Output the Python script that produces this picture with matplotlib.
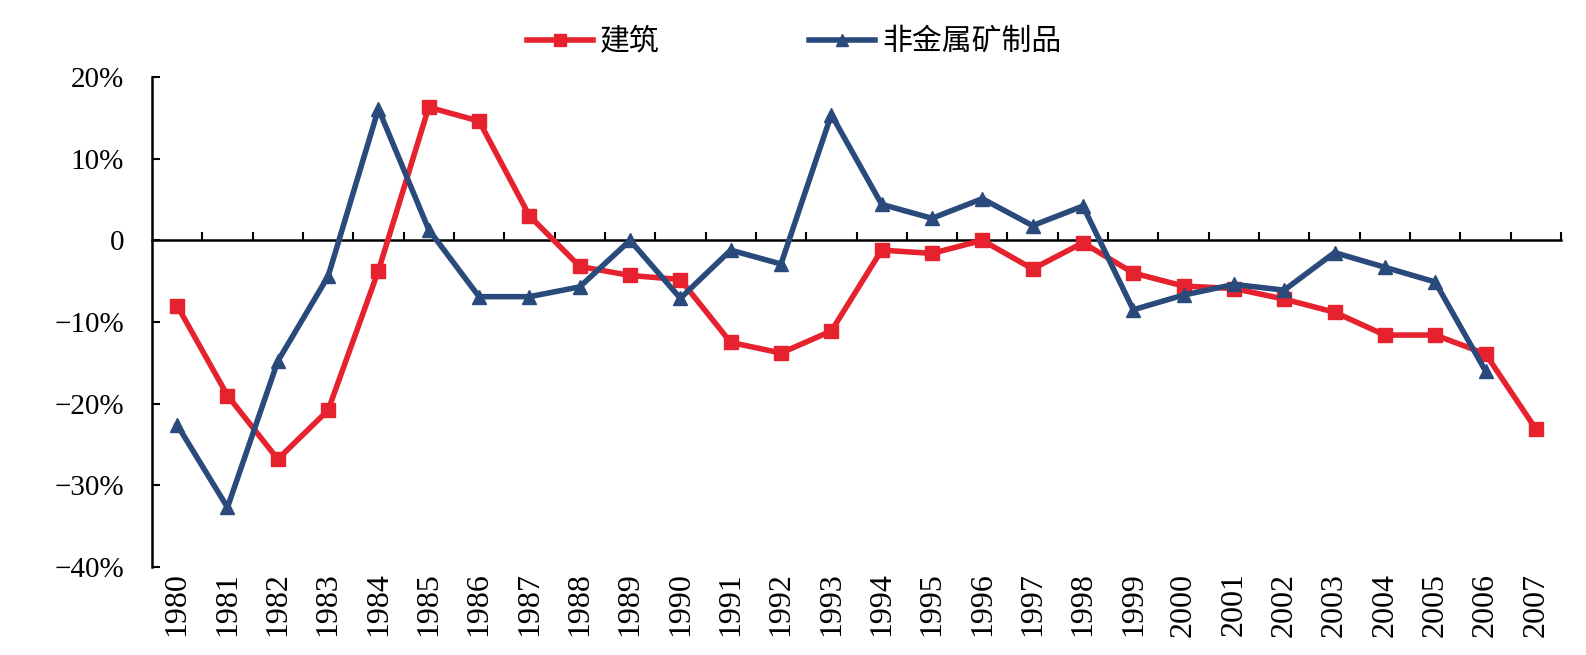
import matplotlib
matplotlib.use('Agg')
import matplotlib.pyplot as plt
from matplotlib.ticker import FixedLocator, FixedFormatter

plt.rcParams['font.family'] = ['Liberation Serif', 'Noto Sans CJK SC']

years = list(range(1980, 2008))
construction = [-8.0, -19.0, -26.8, -20.8, -3.7, 16.3, 14.6, 3.0, -3.2, -4.3,
                -4.8, -12.5, -13.8, -11.1, -1.2, -1.6, 0.0, -3.5, -0.3, -4.0,
                -5.6, -5.9, -7.2, -8.8, -11.6, -11.6, -13.9, -23.1]
nonmetal = [-22.6, -32.7, -14.8, -4.4, 16.1, 1.3, -6.9, -6.9, -5.7, 0.0,
            -7.1, -1.2, -2.9, 15.4, 4.4, 2.7, 5.1, 1.8, 4.2, -8.5,
            -6.7, -5.4, -6.1, -1.5, -3.3, -5.1, -16.0]
y_ticks = [20, 10, 0, -10, -20, -30, -40]
y_labels = ['20%', '10%', '0', '\u221210%', '\u221220%', '\u221230%', '\u221240%']

red = '#E5222D'
blue = '#2A4A7C'

fig = plt.figure(figsize=(15.86, 6.55), dpi=100)
ax = fig.add_axes([152 / 1586, 1 - 567 / 655, (1561 - 152) / 1586, (567 - 77) / 655])

x1 = list(range(len(construction)))
x2 = list(range(len(nonmetal)))
ax.plot(x1, construction, color=red, lw=4, marker='s', ms=10, label='建筑', zorder=3)
ax.plot(x2, nonmetal, color=blue, lw=4, marker='^', ms=10, label='非金属矿制品', zorder=3)

ax.set_xlim(-0.5, len(years) - 0.5)
ax.set_ylim(-40, 20)

# y axis
ax.yaxis.set_major_locator(FixedLocator(y_ticks))
ax.yaxis.set_major_formatter(FixedFormatter(y_labels))
ax.tick_params(axis='y', direction='in', length=6, width=1.5, pad=20, labelsize=21)
ax.spines['left'].set_linewidth(1.8)
ax.spines['right'].set_visible(False)
ax.spines['top'].set_visible(False)

# category axis drawn along zero line, ticks at category boundaries
ax.spines['bottom'].set_position(('data', 0))
ax.spines['bottom'].set_linewidth(1.8)
ax.xaxis.set_major_locator(FixedLocator([i + 0.5 for i in range(len(years))]))
ax.tick_params(axis='x', direction='in', length=6, width=1.5, labelbottom=False)

# year labels at the bottom
sec = ax.secondary_xaxis('bottom')
sec.spines['bottom'].set_visible(False)
sec.xaxis.set_major_locator(FixedLocator(list(range(len(years)))))
sec.xaxis.set_major_formatter(FixedFormatter([str(y) for y in years]))
sec.tick_params(axis='x', length=0, pad=4, labelsize=23, labelrotation=90)

leg = fig.legend(loc='center left', bbox_to_anchor=(527 / 1586, 1 - 42 / 655), ncol=2,
                 frameon=False, fontsize=21.5, handlelength=2.2, handletextpad=0.25,
                 columnspacing=5.0, borderaxespad=0, borderpad=0, markerscale=0.9)

fig.savefig('out.png', dpi=100)
